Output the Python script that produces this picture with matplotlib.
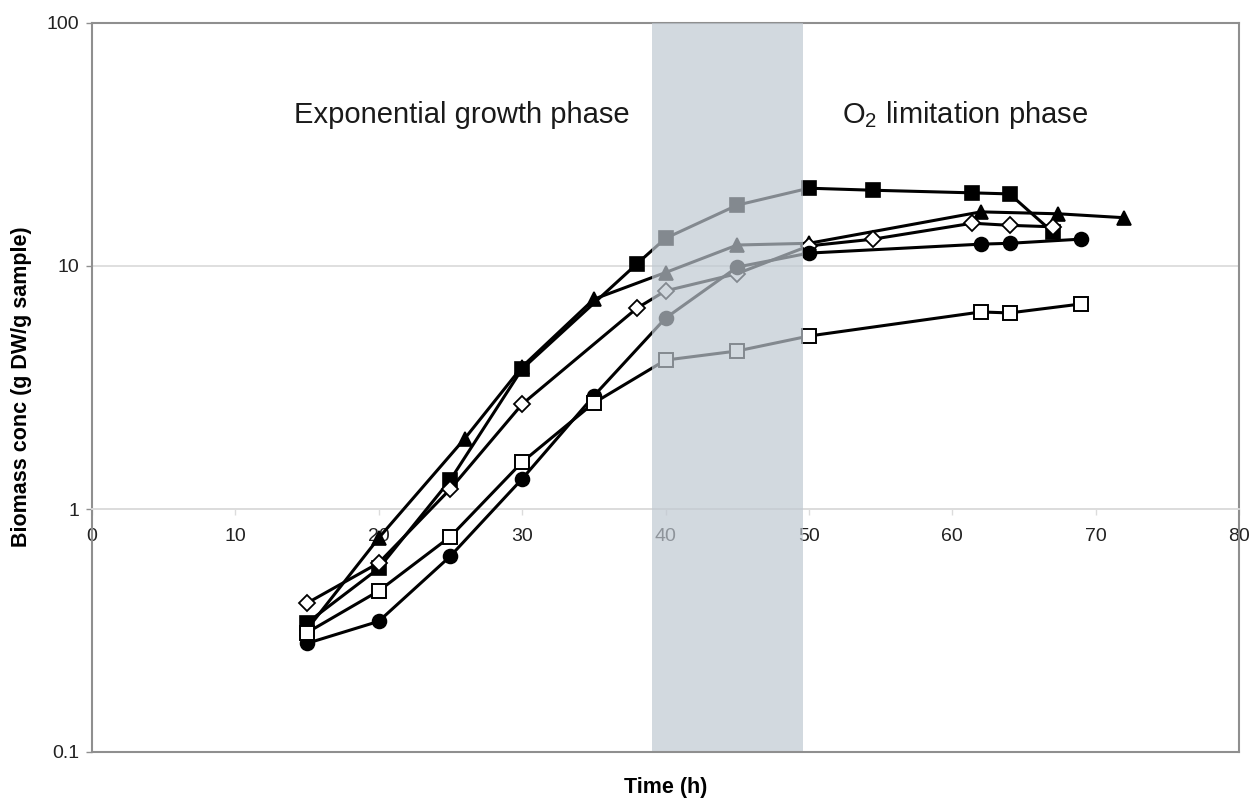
import matplotlib
matplotlib.use('Agg')
import matplotlib.pyplot as plt
from matplotlib.ticker import FixedLocator, FuncFormatter, NullLocator

plt.rcParams['font.family'] = ['Liberation Sans', 'DejaVu Sans']
plt.rcParams['axes.axisbelow'] = True

# biomass concentration (g DW/g sample) against time (h), one run per marker
t_fsq = [15, 20, 25, 30, 38, 40, 45, 50, 54.5, 61.4, 64, 67]
b_fsq = [0.34, 0.57, 1.32, 3.77, 10.2, 13.0, 17.8, 20.9, 20.5, 20.0, 19.8, 13.8]

t_tri = [15, 20, 26, 30, 35, 40, 45, 50, 62, 67.4, 72]
b_tri = [0.32, 0.76, 1.95, 3.85, 7.3, 9.4, 12.2, 12.4, 16.7, 16.4, 15.8]

t_dia = [15, 20, 25, 30, 38, 40, 45, 50, 54.5, 61.4, 64, 67]
b_dia = [0.41, 0.60, 1.21, 2.70, 6.7, 7.9, 9.3, 12.1, 12.9, 15.0, 14.7, 14.5]

t_cir = [15, 20, 25, 30, 35, 40, 45, 50, 62, 64, 69]
b_cir = [0.28, 0.345, 0.64, 1.33, 2.92, 6.1, 9.9, 11.3, 12.3, 12.4, 12.9]

t_osq = [15, 20, 25, 30, 35, 40, 45, 50, 62, 64, 69]
b_osq = [0.31, 0.46, 0.77, 1.56, 2.73, 4.1, 4.47, 5.15, 6.47, 6.41, 6.98]

# transition window between the two phases (h)
shift_start, shift_end = 39.05, 49.6

frame = '#8f8f8f'
grid = '#dcdcdc'

fig = plt.figure(figsize=(12.51, 7.98), dpi=100)
ax = fig.add_axes([92 / 1251, 1 - 752 / 798, 1147 / 1251, 729 / 798])

common = dict(color='k', lw=2.2, mec='k', zorder=3)
ax.plot(t_fsq, b_fsq, marker='s', ms=9.5, mfc='k', mew=1.2, **common)
ax.plot(t_tri, b_tri, marker='^', ms=10.5, mfc='k', mew=1.2, **common)
ax.plot(t_dia, b_dia, marker='D', ms=8, mfc='white', mew=1.3, **common)
ax.plot(t_cir, b_cir, marker='o', ms=10, mfc='k', mew=1.2, **common)
ax.plot(t_osq, b_osq, marker='s', ms=10, mfc='white', mew=1.4, **common)

# translucent band sits over the curves, so they fade to grey inside it
ax.axvspan(shift_start, shift_end, color=(191 / 255, 200 / 255, 209 / 255),
           alpha=0.69, lw=0, zorder=4)

ax.set_yscale('log')
ax.set_ylim(0.1, 100)
ax.set_xlim(0, 80)

ax.yaxis.set_major_locator(FixedLocator([0.1, 1, 10, 100]))
ax.yaxis.set_minor_locator(NullLocator())
ax.yaxis.set_major_formatter(FuncFormatter(lambda v, _: '%g' % v))
ax.yaxis.grid(True, color=grid, lw=1.3)
ax.tick_params(axis='y', direction='out', length=4, width=1, color=frame,
               labelsize=14, pad=5, labelcolor='#222222')

# x axis crosses at y = 1
ax.spines['bottom'].set_position(('data', 1))
ax.spines['bottom'].set_color(grid)
ax.spines['bottom'].set_linewidth(1.3)
ax.set_xticks(range(0, 81, 10))
ax.tick_params(axis='x', direction='out', length=4, width=1, color=grid,
               labelsize=14, pad=10, labelcolor='#222222')

for s in ['left', 'top', 'right']:
    ax.spines[s].set_color(frame)
    ax.spines[s].set_linewidth(1.5)
ax.axhline(0.1, color=frame, lw=1.5, clip_on=False, zorder=6)

ax.text(25.8, 42, 'Exponential growth phase', fontsize=21, ha='center',
        va='center', color='#1a1a1a')
ax.text(60.9, 42, r'$\mathregular{O_2}$ limitation phase', fontsize=21,
        ha='center', va='center', color='#1a1a1a')

fig.text(666 / 1251, 1 - 788 / 798, 'Time (h)', fontsize=15.5,
         fontweight='bold', ha='center', va='center')
fig.text(22 / 1251, 1 - 387 / 798, 'Biomass conc (g DW/g sample)',
         fontsize=15.5, fontweight='bold', rotation=90, ha='center',
         va='center')

fig.savefig('out.png', dpi=100)
